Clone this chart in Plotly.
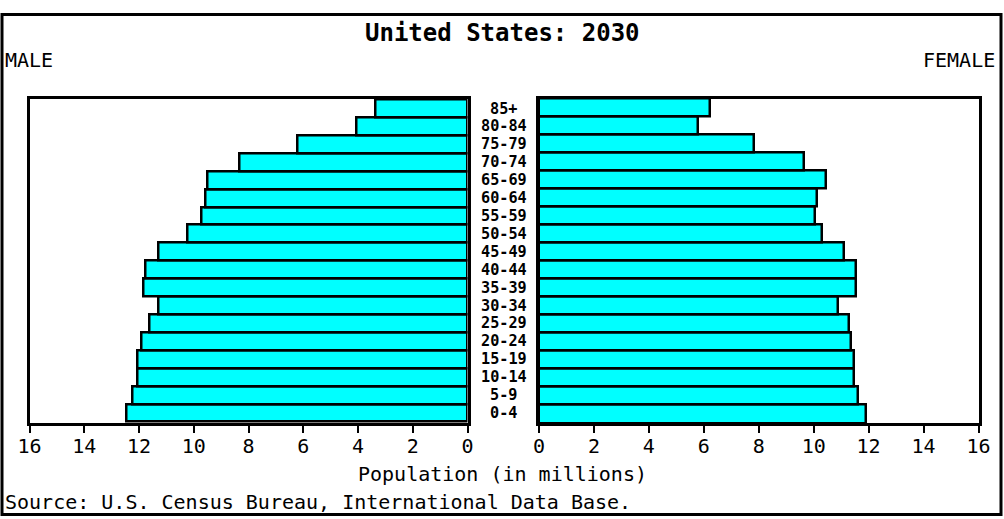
import plotly.graph_objects as go

ages = ["0-4", "5-9", "10-14", "15-19", "20-24", "25-29", "30-34", "35-39", "40-44",
        "45-49", "50-54", "55-59", "60-64", "65-69", "70-74", "75-79", "80-84", "85+"]
male = [12.44, 12.22, 12.07, 12.07, 11.92, 11.63, 11.27, 11.85, 11.78,
        11.27, 10.24, 9.73, 9.57, 9.51, 8.34, 6.22, 4.05, 3.35]
female = [11.89, 11.62, 11.46, 11.46, 11.34, 11.30, 10.88, 11.55, 11.55,
          11.12, 10.31, 10.06, 10.12, 10.46, 9.66, 7.84, 5.78, 6.23]
tick_vals = [0, 2, 4, 6, 8, 10, 12, 14, 16]
tick_text = ["0", "2", "4", "6", "8", "10", "12", "14", "16"]

W, H = 1004, 519
FONT = "DejaVu Sans Mono"

def px_x(p):
    return p / W

def px_y(p):
    return 1 - p / H

fig = go.Figure()
bar_style = dict(marker=dict(color="#00FFFF", line=dict(color="black", width=2.5)),
                 orientation="h", showlegend=False, hoverinfo="x+y")
fig.add_trace(go.Bar(x=male, y=ages, xaxis="x", yaxis="y", name="Male", **bar_style))
fig.add_trace(go.Bar(x=female, y=ages, xaxis="x2", yaxis="y2", name="Female", **bar_style))

ydom = [px_y(423), px_y(98.5)]
xaxis_common = dict(tickvals=tick_vals, ticktext=tick_text, ticks="outside", ticklen=7,
                    tickwidth=2, tickcolor="black", showline=True, linecolor="black",
                    linewidth=3, mirror=True, showgrid=False, zeroline=False, automargin=False,
                    ticklabelstandoff=-4,
                    tickfont=dict(family=FONT, size=20, color="black"), fixedrange=True)
yaxis_common = dict(domain=ydom, showline=True, linecolor="black", linewidth=3, mirror=True,
                    showticklabels=False, ticks="", showgrid=False, zeroline=False,
                    automargin=False, categoryorder="array", categoryarray=ages,
                    fixedrange=True)

fig.update_layout(
    width=W, height=H,
    margin=dict(l=0, r=0, t=0, b=0, autoexpand=False),
    paper_bgcolor="white", plot_bgcolor="white",
    bargap=0,
    font=dict(family=FONT, size=20, color="black"),
    xaxis=dict(domain=[px_x(29.5), px_x(467.5)], range=[16, 0], anchor="y", **xaxis_common),
    xaxis2=dict(domain=[px_x(539), px_x(978.5)], range=[0, 16], anchor="y2", **xaxis_common),
    yaxis=dict(anchor="x", **yaxis_common),
    yaxis2=dict(anchor="x2", **yaxis_common),
)

annotations = [
    dict(text="<b>United States: 2030</b>", x=px_x(502), y=px_y(33), xref="paper", yref="paper",
         xanchor="center", yanchor="middle", showarrow=False,
         font=dict(family=FONT, size=24, color="black")),
    dict(text="MALE", x=px_x(4), y=px_y(60), xref="paper", yref="paper",
         xanchor="left", yanchor="middle", showarrow=False),
    dict(text="FEMALE", x=px_x(996), y=px_y(60), xref="paper", yref="paper",
         xanchor="right", yanchor="middle", showarrow=False),
    dict(text="Population (in millions)", x=px_x(502.5), y=px_y(474), xref="paper", yref="paper",
         xanchor="center", yanchor="middle", showarrow=False),
    dict(text="Source: U.S. Census Bureau, International Data Base.", x=px_x(4), y=px_y(502),
         xref="paper", yref="paper", xanchor="left", yanchor="middle", showarrow=False),
]
for a in ages:
    annotations.append(dict(text="<b>" + a + "</b>", x=px_x(503.5), y=a, xref="paper", yref="y",
                            xanchor="center", yanchor="middle", showarrow=False,
                            font=dict(family=FONT, size=15.2, color="black")))
for ann in annotations:
    ann.setdefault("font", dict(family=FONT, size=20, color="black"))
    ann["borderpad"] = 0
fig.update_layout(annotations=annotations)

fig.add_shape(type="rect", xref="paper", yref="paper",
              x0=px_x(2), x1=px_x(1001), y0=px_y(514.5), y1=px_y(14.5),
              line=dict(color="black", width=3), fillcolor="rgba(0,0,0,0)", layer="above")

fig.write_html("out.html", config={"displayModeBar": False},
               post_script="document.body.style.margin='0';document.body.style.overflow='hidden';")
